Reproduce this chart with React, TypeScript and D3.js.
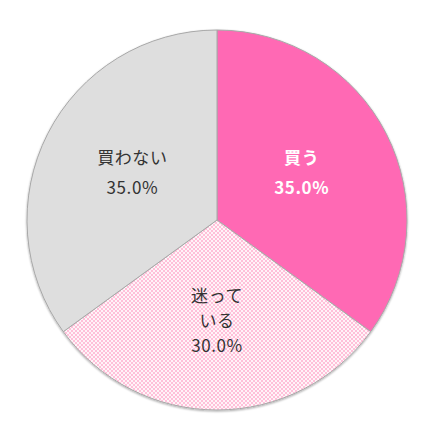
import React from "react";
import * as d3 from "d3";

const categories = ["買う", "迷っている", "買わない"];
const values = [35.0, 30.0, 35.0];
const labelLines = [["買う"], ["迷って", "いる"], ["買わない"]];

const W = 431;
const H = 443;
const cx = 217;
const cy = 220;
const R = 190;

const fills = ["#FF69B4", "url(#hatch)", "#DEDEDE"];
const textColors = ["#FFFFFF", "#333333", "#333333"];
const weights = ["bold", "normal", "normal"];
const lineHeights = [30, 25, 30];
const labelShiftY = [-4, 6, -4];

export default function App() {
  const pie = d3.pie<number>().sort(null).value((d) => d);
  const arcs = pie(values);
  const arc = d3.arc<d3.PieArcDatum<number>>().innerRadius(0).outerRadius(R);
  const labelArc = d3.arc<d3.PieArcDatum<number>>().innerRadius(R * 0.5).outerRadius(R * 0.5);
  return (
    <div style={{ position: "absolute", left: 0, top: 0 }}>
      <svg width={W} height={H} style={{ display: "block" }}>
        <defs>
          <pattern id="hatch" width={4} height={4} patternUnits="userSpaceOnUse">
            <rect x={0} y={0} width={4} height={4} fill="#FFF4F8" />
            <rect x={0} y={0} width={2} height={2} fill="#FFC0D9" />
            <rect x={2} y={2} width={2} height={2} fill="#FFC0D9" />
          </pattern>
          <filter id="sh" x="-10%" y="-10%" width="120%" height="120%">
            <feGaussianBlur in="SourceAlpha" stdDeviation="1" />
            <feOffset dx="0" dy="1" result="b" />
            <feComponentTransfer>
              <feFuncA type="linear" slope="0.35" />
            </feComponentTransfer>
            <feMerge>
              <feMergeNode />
              <feMergeNode in="SourceGraphic" />
            </feMerge>
          </filter>
        </defs>
        <rect width={W} height={H} fill="#FFFFFF" />
        <g transform={`translate(${cx},${cy})`} filter="url(#sh)">
          {arcs.map((a, i) => (
            <path key={categories[i]} d={arc(a) || ""} fill={fills[i]} stroke="#A8A8A8" strokeWidth={1} />
          ))}
        </g>
        <g transform={`translate(${cx},${cy})`}>
          {arcs.map((a, i) => {
            const [x, y] = labelArc.centroid(a);
            const lines = [...labelLines[i], values[i].toFixed(1) + "%"];
            const lh = lineHeights[i];
            const y0 = y + labelShiftY[i] - ((lines.length - 1) * lh) / 2;
            return (
              <text
                key={categories[i]}
                textAnchor="middle"
                fontFamily="'Noto Sans CJK JP', 'Noto Sans', sans-serif"
                fontSize={17}
                letterSpacing={0.6}
                fontWeight={weights[i]}
                fill={textColors[i]}
              >
                {lines.map((t, j) => (
                  <tspan key={j} x={x} y={y0 + j * lh} dy="0.35em">
                    {t}
                  </tspan>
                ))}
              </text>
            );
          })}
        </g>
      </svg>
    </div>
  );
}
